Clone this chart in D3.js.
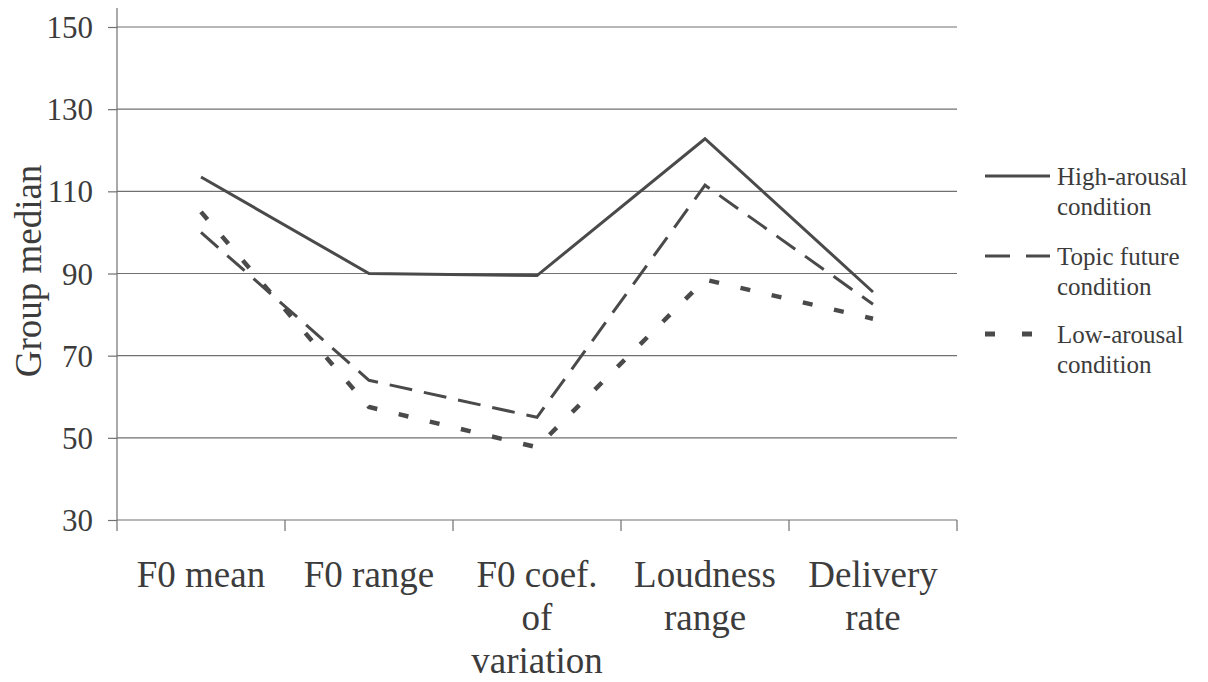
<!DOCTYPE html>
<html>
<head>
<meta charset="utf-8">
<script src="https://cdn.jsdelivr.net/npm/d3@7"></script>
<style>
  body { margin: 0; background: #fff; }
  svg text { font-family: 'Liberation Serif', 'DejaVu Serif', 'Times New Roman', serif !important; fill: #3c3c3c; }
</style>
</head>
<body>
<script>
// chart data
var categories = ["F0 mean", "F0 range", "F0 coef. of variation", "Loudness range", "Delivery rate"];
var categoryLines = [["F0 mean"], ["F0 range"], ["F0 coef.", "of", "variation"], ["Loudness", "range"], ["Delivery", "rate"]];
var highArousal = [113.5, 90, 89.5, 122.8, 85.5];
var topicFuture = [100, 64, 55, 111.5, 82.5];
var lowArousal = [105, 57.5, 47.7, 88.5, 79];
var seriesNames = ["High-arousal condition", "Topic future condition", "Low-arousal condition"];
var legendLines = [["High-arousal", "condition"], ["Topic future", "condition"], ["Low-arousal", "condition"]];
var yTicks = [30, 50, 70, 90, 110, 130, 150];

var width = 1208;
var height = 682;
var margin = {top: 27, left: 117, right: 251, bottom: 162};
var serif = "'Liberation Serif', 'DejaVu Serif', serif";

var svg = d3.select("body")
  .append("svg")
    .attr("width", width)
    .attr("height", height);

var x = d3.scaleBand()
  .domain(categories)
  .range([margin.left, width - margin.right]);

var y = d3.scaleLinear()
  .domain([30, 150])
  .range([height - margin.bottom, margin.top]);

var lineColor = "#4a4a4a";
var gridColor = "#707070";

// gridlines
svg.append("g")
  .selectAll("line")
  .data(yTicks)
  .enter()
  .append("line")
    .attr("x1", margin.left)
    .attr("x2", width - margin.right)
    .attr("y1", d => y(d))
    .attr("y2", d => y(d))
    .attr("stroke", gridColor)
    .attr("stroke-width", 1.2);

// y axis (labels + outer ticks)
var leftAxis = d3.axisLeft(y).tickValues(yTicks).tickSize(9).tickPadding(15);
var yAxis = svg.append("g")
  .attr("transform", "translate(" + margin.left + ",0)")
  .call(leftAxis)
  .attr("font-family", null)
  .attr("font-size", null);
yAxis.select(".domain").remove();
yAxis.selectAll("line").attr("stroke", gridColor).attr("stroke-width", 1.2);
yAxis.selectAll("text")
  .style("font-family", serif)
  .style("font-size", "31px")
  .attr("fill", "#3c3c3c")
  .attr("dy", "0.34em");

// vertical axis line, runs a little past both ends
svg.append("line")
  .attr("x1", margin.left).attr("x2", margin.left)
  .attr("y1", 8).attr("y2", y(30) + 11)
  .attr("stroke", gridColor).attr("stroke-width", 1.2);

// x ticks at band edges
svg.append("g")
  .selectAll("line")
  .data(categories)
  .enter()
  .append("line")
    .attr("x1", d => x(d) + x.bandwidth())
    .attr("x2", d => x(d) + x.bandwidth())
    .attr("y1", y(30))
    .attr("y2", y(30) + 11)
    .attr("stroke", gridColor)
    .attr("stroke-width", 1.2);

// x labels
var xLabels = svg.append("g")
  .selectAll("text")
  .data(categories)
  .enter()
  .append("text")
    .attr("text-anchor", "middle")
    .style("font-family", serif)
    .style("font-size", "37px")
    .attr("x", d => x(d) + x.bandwidth() / 2)
    .attr("y", 587);
xLabels.each(function(d, i) {
  var t = d3.select(this);
  categoryLines[i].forEach(function(s, j) {
    t.append("tspan")
      .attr("x", x(d) + x.bandwidth() / 2)
      .attr("y", 587 + j * 43)
      .text(s);
  });
});

// y axis title
svg.append("text")
  .attr("transform", "translate(41," + 271 + ") rotate(-90)")
  .attr("text-anchor", "middle")
  .style("font-family", serif)
  .style("font-size", "37px")
  .text("Group median");

// series lines
var seriesValues = [highArousal, topicFuture, lowArousal];
var dashes = [null, "23,12", "10,22"];
var widths = [3, 3, 4.5];

var line = d3.line()
  .x((d, i) => x(categories[i]) + x.bandwidth() / 2)
  .y(d => y(d));

seriesValues.forEach(function(vals, k) {
  svg.append("path")
    .datum(vals)
    .attr("d", line)
    .attr("fill", "none")
    .attr("stroke", lineColor)
    .attr("stroke-width", widths[k])
    .attr("stroke-dasharray", dashes[k]);
});

// legend
var legendY = [176, 256, 334];
var legend = svg.append("g");
seriesNames.forEach(function(name, k) {
  legend.append("line")
    .attr("x1", 985).attr("x2", k == 2 ? 1033 : 1050)
    .attr("y1", legendY[k]).attr("y2", legendY[k])
    .attr("stroke", lineColor)
    .attr("stroke-width", k == 2 ? 5 : 3)
    .attr("stroke-dasharray", k == 0 ? null : (k == 1 ? "25,16" : "10,27"));
  legendLines[k].forEach(function(s, j) {
    legend.append("text")
      .attr("x", 1057)
      .attr("y", legendY[k] + 9 + j * 30)
      .style("font-family", serif)
      .style("font-size", "25px")
      .text(s);
  });
});
</script>
</body>
</html>
